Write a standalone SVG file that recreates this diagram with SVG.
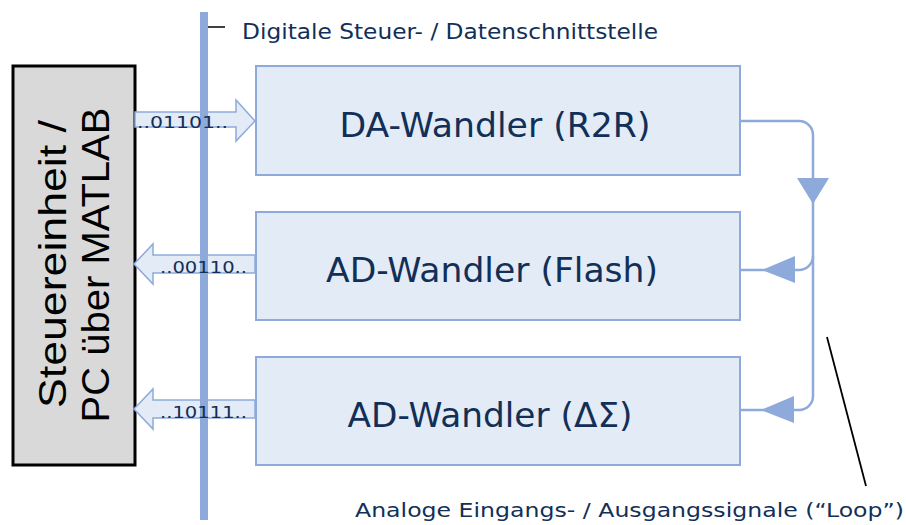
<svg xmlns="http://www.w3.org/2000/svg" width="906" height="525" viewBox="0 0 906 525">
  <style>
    .blk { fill: #e3ebf6; stroke: #8eaadb; stroke-width: 2; }
    .bus { fill: #e3ebf6; stroke: #8eaadb; stroke-width: 1.5; }
    .lbl { font-family: "DejaVu Sans", Verdana, sans-serif; fill: #122f57; }
    .big { font-size: 33px; text-anchor: middle; }
    .bits { font-size: 16px; }
    .loop { fill: none; stroke: #8eaadb; stroke-width: 2.5; }
    .head { fill: #8eaadb; }
  </style>

  <rect width="906" height="525" fill="#ffffff"/>

  <!-- control unit -->
  <g id="ctrl">
    <rect x="13" y="66" width="122" height="399" fill="#d9d9d9" stroke="#000000" stroke-width="3"/>
    <g font-family="'Liberation Sans', Arial, sans-serif" font-size="38" fill="#000000" text-anchor="middle">
      <text transform="translate(66,264) rotate(-90)" textLength="288" lengthAdjust="spacingAndGlyphs">Steuereinheit /</text>
      <text transform="translate(109,265) rotate(-90)" textLength="315" lengthAdjust="spacingAndGlyphs">PC über MATLAB</text>
    </g>
  </g>

  <!-- data buses -->
  <g id="buses">
    <polygon class="bus" points="135,112 236,112 236,100 255,121 236,141 236,127 135,127"/>
    <polygon class="bus" points="255,255 153,255 153,244 134,264 153,284 153,273 255,273"/>
    <polygon class="bus" points="255,400 153,400 153,389 134,409 153,429 153,418 255,418"/>
  </g>

  <!-- digital interface bar -->
  <g id="interface">
    <rect x="200" y="12" width="8" height="508" fill="#8eaadb"/>
    <line x1="208" y1="27" x2="225" y2="27" stroke="#000000" stroke-width="1.5"/>
    <text class="lbl" x="242" y="39" font-size="21" textLength="416" lengthAdjust="spacingAndGlyphs">Digitale Steuer- / Datenschnittstelle</text>
  </g>

  <g id="bitlabels" class="lbl bits">
    <text x="137" y="128" textLength="91" lengthAdjust="spacingAndGlyphs">..01101..</text>
    <text x="160" y="273" textLength="87" lengthAdjust="spacingAndGlyphs">..00110..</text>
    <text x="160" y="418" textLength="87" lengthAdjust="spacingAndGlyphs">..10111..</text>
  </g>

  <!-- converters -->
  <g id="dac">
    <rect class="blk" x="256" y="66" width="484" height="109"/>
    <text class="lbl big" x="495" y="137" textLength="311" lengthAdjust="spacingAndGlyphs">DA-Wandler (R2R)</text>
  </g>
  <g id="adc-flash">
    <rect class="blk" x="256" y="212" width="484" height="108"/>
    <text class="lbl big" x="492" y="282" textLength="332" lengthAdjust="spacingAndGlyphs">AD-Wandler (Flash)</text>
  </g>
  <g id="adc-sigma-delta">
    <rect class="blk" x="256" y="357" width="484" height="108"/>
    <text class="lbl big" x="490" y="427" textLength="285" lengthAdjust="spacingAndGlyphs">AD-Wandler (ΔΣ)</text>
  </g>

  <!-- analog loop -->
  <g id="connectors">
    <path class="loop" d="M740,121 H799 A14,14 0 0 1 813,135 V396 A14,14 0 0 1 799,410 H740"/>
    <path class="loop" d="M813,256 A14,14 0 0 1 799,270 H740"/>
    <polygon class="head" points="797,178 829,178 813,204"/>
    <polygon class="head" points="795,256 795,283 762,270"/>
    <polygon class="head" points="794,396 794,423 761,410"/>
    <line x1="827" y1="337" x2="866" y2="486" stroke="#000000" stroke-width="1.8"/>
  </g>

  <text class="lbl" x="355" y="517" font-size="19" textLength="549" lengthAdjust="spacingAndGlyphs">Analoge Eingangs- / Ausgangssignale (“Loop”)</text>
</svg>
